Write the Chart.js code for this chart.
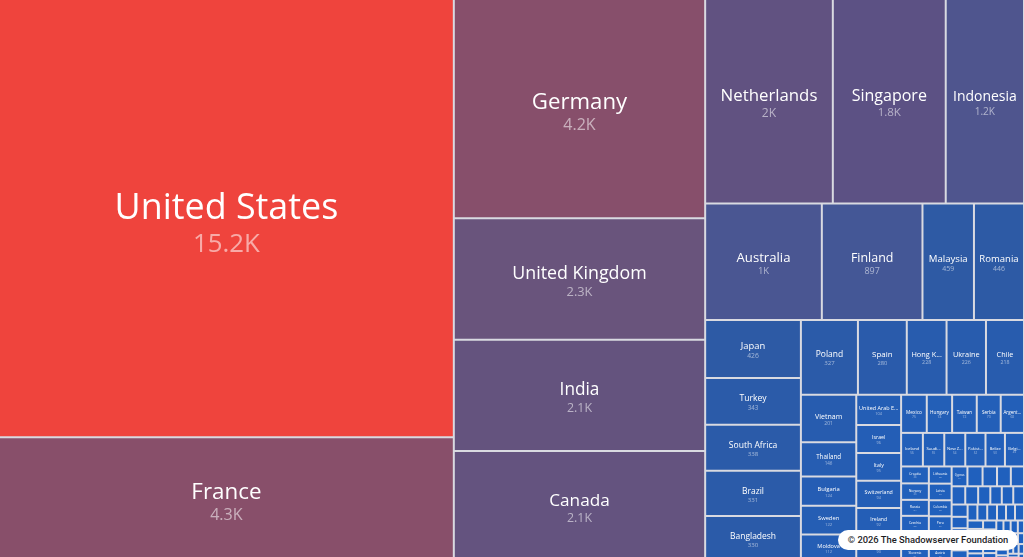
<!DOCTYPE html>
<html>
<head>
<meta charset="utf-8">
<title>Treemap by country</title>
<script src="https://cdn.jsdelivr.net/npm/chart.js@4/dist/chart.umd.min.js"></script>
<style>
  html, body { margin: 0; padding: 0; overflow: hidden; background: #d9dae1; }
  #wrap { position: relative; width: 1024px; height: 557px; }
  #credit {
    position: absolute; left: 838px; top: 530px; width: 180px; height: 20px;
    background: #fff; border-radius: 10px; color: #1d1d1f;
    font: 500 9.4px Roboto, sans-serif; line-height: 20px; text-align: center;
    white-space: nowrap; overflow: hidden;
  }
</style>
</head>
<body>
<div id="wrap">
  <canvas id="treemap-chart" width="1024" height="557"></canvas>
  <div id="credit">© 2026 The Shadowserver Foundation</div>
</div>
<script>
var countries = [
    'United States', 'France', 'Germany', 'United Kingdom', 'India', 'Canada',
    'Netherlands', 'Singapore', 'Indonesia', 'Australia', 'Finland', 'Malaysia', 'Romania',
    'Japan', 'Turkey', 'South Africa', 'Brazil', 'Bangladesh',
    'Poland', 'Spain', 'Hong Kong', 'Ukraine', 'Chile',
    'Vietnam', 'Thailand', 'Bulgaria', 'Sweden', 'Moldova',
    'United Arab Emirates', 'Israel', 'Italy', 'Switzerland', 'Ireland', 'Portugal',
    'Mexico', 'Hungary', 'Taiwan', 'Serbia', 'Argentina',
    'Iceland', 'Saudi Arabia', 'New Zealand', 'Pakistan', 'Belize', 'Belgium',
    'Croatia', 'Norway', 'Russia', 'Czechia', 'Costa Rica',
    'Slovenia', 'Lithuania', 'Latvia', 'Colombia', 'Peru',
    'Greece', 'Austria', 'Cyprus', 'Estonia', 'Luxembourg', 'Slovakia', 'Kazakhstan',
    'Philippines', 'Denmark', 'Egypt', 'Morocco', 'Nigeria', 'Kenya', 'Georgia',
    'Armenia', 'Ecuador', 'Uruguay', 'Panama', 'Qatar', 'Kuwait', 'Dominican Republic',
    'Jordan', 'Lebanon', 'Guatemala', 'Tunisia', 'Sri Lanka', 'Honduras', 'Nepal',
    'Cambodia', 'Venezuela', 'Macao', 'Albania', 'Malta', 'El Salvador', 'Belarus',
    'Azerbaijan', 'Puerto Rico', 'Bolivia', 'Paraguay', 'Ghana', 'Bosnia and Herzegovina',
    'Mauritius', 'Monaco', 'Jamaica', 'Montenegro', 'Uganda', 'Iraq', 'Oman',
    'Bahrain', 'Fiji', 'Andorra'
];
var counts = [
    15200, 4300, 4200, 2340, 2140, 2120,
    1990, 1760, 1220, 1040, 897, 459, 446,
    426, 343, 338, 331, 330,
    327, 280, 228, 226, 218,
    201, 146, 124, 122, 112,
    104, 96, 95, 94, 92, 90,
    75, 74, 72, 70, 68,
    56, 55, 54, 52, 50, 49,
    36, 35, 34, 33, 32,
    31, 30, 29, 28, 27,
    26, 25, 24, 23, 22, 21, 20,
    19, 18, 17, 16, 16, 15, 15,
    14, 14, 13, 13, 12, 12, 12,
    11, 11, 11, 10, 10, 10, 9,
    9, 9, 8, 8, 8, 8, 7,
    7, 7, 6, 6, 6, 6,
    5, 5, 5, 5, 4, 4, 4,
    3, 3, 3
];

// colour ramp, keyed on sqrt(value / max)
var colorStops = [
    [0.00, [28, 98, 196]],
    [0.10, [38, 93, 178]],
    [0.17, [45, 90, 165]],
    [0.26, [74, 86, 146]],
    [0.34, [92, 81, 132]],
    [0.39, [104, 84, 124]],
    [0.53, [136, 79, 106]],
    [1.00, [239, 68, 61]]
];

// the map is a little taller than the window, the bottom row is cut off
var layoutWidth = 1024;
var layoutHeight = 561;

function colorFor(value, max) {
    var s = Math.sqrt(value / max);
    for (var i = 1; i < colorStops.length; i++) {
        var a = colorStops[i - 1], b = colorStops[i];
        if (s <= b[0]) {
            var t = (s - a[0]) / (b[0] - a[0]);
            var c = a[1].map(function (v, k) { return Math.round(v + (b[1][k] - v) * t); });
            return 'rgb(' + c.join(',') + ')';
        }
    }
    return 'rgb(' + colorStops[colorStops.length - 1][1].join(',') + ')';
}

function formatValue(v) {
    if (v >= 1000) {
        return (v / 1000).toFixed(1).replace(/\.0$/, '') + 'K';
    }
    return String(v);
}

// squarified layout, same steps as d3.treemapSquarify
function squarify(values, width, height) {
    var ratio = (1 + Math.sqrt(5)) / 2;
    var out = new Array(values.length);
    var x0 = 0, y0 = 0, x1 = width, y1 = height;
    var total = values.reduce(function (s, v) { return s + v; }, 0);
    var i0 = 0, i1 = 0, n = values.length;
    while (i0 < n) {
        var dx = x1 - x0, dy = y1 - y0;
        var sumValue = values[i1++];
        var minValue = sumValue, maxValue = sumValue;
        var alpha = Math.max(dy / dx, dx / dy) / (total * ratio);
        var beta = sumValue * sumValue * alpha;
        var minRatio = Math.max(maxValue / beta, beta / minValue);
        for (; i1 < n; ++i1) {
            var nodeValue = values[i1];
            sumValue += nodeValue;
            if (nodeValue < minValue) minValue = nodeValue;
            if (nodeValue > maxValue) maxValue = nodeValue;
            beta = sumValue * sumValue * alpha;
            var newRatio = Math.max(maxValue / beta, beta / minValue);
            if (newRatio > minRatio) { sumValue -= nodeValue; break; }
            minRatio = newRatio;
        }
        var i, k, pos;
        if (dx < dy) {
            var yEnd = y0 + dy * sumValue / total;
            k = dx / sumValue; pos = x0;
            for (i = i0; i < i1; i++) {
                out[i] = { x0: pos, y0: y0, x1: pos + values[i] * k, y1: yEnd };
                pos += values[i] * k;
            }
            y0 = yEnd;
        } else {
            var xEnd = x0 + dx * sumValue / total;
            k = dy / sumValue; pos = y0;
            for (i = i0; i < i1; i++) {
                out[i] = { x0: x0, y0: pos, x1: xEnd, y1: pos + values[i] * k };
                pos += values[i] * k;
            }
            x0 = xEnd;
        }
        total -= sumValue;
        i0 = i1;
    }
    return out;
}

class TreemapController extends Chart.DatasetController {
    update(mode) {
        var meta = this._cachedMeta;
        this.updateElements(meta.data, 0, meta.data.length, mode);
    }
    updateElements(rects, start, count, mode) {
        var meta = this._cachedMeta;
        var xScale = meta.xScale, yScale = meta.yScale;
        var dataset = this.getDataset();
        var boxes = squarify(dataset.data, dataset.layoutWidth, dataset.layoutHeight);
        var gap = dataset.spacing || 0;
        for (var i = start; i < start + count; i++) {
            var b = boxes[i];
            var left = xScale.getPixelForValue(b.x0) + (b.x0 > 0 ? gap : 0);
            var right = xScale.getPixelForValue(b.x1) - gap;
            var top = yScale.getPixelForValue(b.y0) + (b.y0 > 0 ? gap : 0);
            var bottom = yScale.getPixelForValue(b.y1) - gap;
            Object.assign(rects[i], {
                x: (left + right) / 2,
                y: top,
                base: bottom,
                width: right - left,
                height: bottom - top,
                horizontal: false,
                borderSkipped: {},
                enableBorderRadius: false,
                inflateAmount: 0,
                options: this.resolveDataElementOptions(i, mode)
            });
        }
    }
}
TreemapController.id = 'treemap';
TreemapController.defaults = { datasetElementType: false, dataElementType: 'bar' };
TreemapController.overrides = {};
Chart.register(TreemapController);

function fitText(ctx, text, maxWidth) {
    if (ctx.measureText(text).width <= maxWidth) {
        return text;
    }
    for (var n = text.length - 1; n > 0; n--) {
        var t = text.slice(0, n).trim() + '...';
        if (ctx.measureText(t).width <= maxWidth) {
            return t;
        }
    }
    return '';
}

var cellLabels = {
    id: 'cellLabels',
    afterDatasetsDraw: function (chart) {
        var ctx = chart.ctx;
        var meta = chart.getDatasetMeta(0);
        ctx.save();
        ctx.textAlign = 'center';
        ctx.textBaseline = 'alphabetic';
        meta.data.forEach(function (cell, i) {
            var w = cell.width, h = cell.base - cell.y;
            var nameSize = 5 * Math.pow(Math.sqrt(w * h) / 31, 0.74);
            if (nameSize < 3) {
                return;
            }
            var valueSize = nameSize * 0.72;
            ctx.font = '500 ' + nameSize + 'px "Open Sans", sans-serif';
            var name = fitText(ctx, chart.data.labels[i], w - nameSize * 0.6);
            if (!name) {
                return;
            }
            var capName = nameSize * 0.72, capValue = valueSize * 0.72, gap = nameSize * 0.42;
            var blockH = capName + gap + capValue;
            var cy = cell.y + h / 2 + nameSize * 0.12;
            var nameBase = cy - blockH / 2 + capName;
            ctx.fillStyle = '#ffffff';
            ctx.fillText(name, cell.x, nameBase);
            ctx.font = '400 ' + valueSize + 'px "Open Sans", sans-serif';
            ctx.fillStyle = 'rgba(255,255,255,0.55)';
            ctx.fillText(formatValue(chart.data.datasets[0].data[i]), cell.x, nameBase + gap + capValue);
        });
        ctx.restore();
    }
};

var gapBackground = {
    id: 'gapBackground',
    beforeDraw: function (chart) {
        var ctx = chart.ctx;
        ctx.save();
        ctx.fillStyle = '#d9dae1';
        ctx.fillRect(0, 0, chart.width, chart.height);
        ctx.restore();
    }
};

var maxCount = Math.max.apply(null, counts);
var backgroundColor = counts.map(function (v) { return colorFor(v, maxCount); });

var treemapCtx = document.getElementById('treemap-chart');
var treemapChart = new Chart(treemapCtx, {
    type: 'treemap',
    data: {
        labels: countries,
        datasets: [
            {
                label: 'Count',
                data: counts,
                backgroundColor: backgroundColor,
                borderWidth: 0,
                inflateAmount: 0,
                spacing: 1,
                layoutWidth: layoutWidth,
                layoutHeight: layoutHeight
            }
        ]
    },
    options: {
        responsive: false,
        animation: false,
        events: [],
        layout: { padding: 0 },
        plugins: {
            legend: { display: false },
            tooltip: { enabled: false }
        },
        scales: {
            x: { type: 'linear', min: 0, max: 1024, display: false },
            y: { type: 'linear', min: 0, max: 557, reverse: true, display: false }
        }
    },
    plugins: [gapBackground, cellLabels]
});
</script>
</body>
</html>
